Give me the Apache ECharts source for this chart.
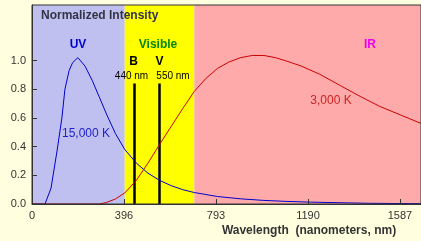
<!DOCTYPE html>
<html><head><meta charset="utf-8">
<script src="https://cdn.jsdelivr.net/npm/echarts@6/dist/echarts.min.js"></script>
<style>html,body{margin:0;padding:0;background:#FFFFE0}#c{width:421px;height:241px}</style>
</head><body><div id="c"></div>
<script>
// ---- data ----
const xTickValues = [0, 396.75, 793.5, 1190.25, 1587];
const yTickValues = [0, 0.2, 0.4, 0.6, 0.8, 1.0];
const bandNames = ['UV', 'Visible', 'IR'];
const bandFrom = [0, 400, 700];
const bandTo = [400, 700, 1678];
const wl15000 = [0, 56, 82, 108, 129, 142, 160, 175, 198, 229, 260, 289, 323, 360, 400, 450, 500, 550, 600, 650, 700, 800, 900, 1000, 1100, 1200, 1450, 1680];
const int15000 = [0, 0, 0.11, 0.37, 0.6, 0.8, 0.93, 0.985, 1.02, 0.96, 0.86, 0.75, 0.62, 0.49, 0.38, 0.285, 0.215, 0.165, 0.128, 0.1, 0.08, 0.052, 0.036, 0.025, 0.018, 0.013, 0.005, 0.002];
const wl3000 = [0, 290, 320, 360, 400, 450, 500, 550, 600, 650, 700, 750, 800, 850, 900, 950, 1000, 1050, 1100, 1160, 1240, 1330, 1415, 1500, 1590, 1680];
const int3000 = [0, 0, 0.01, 0.035, 0.077, 0.165, 0.285, 0.415, 0.54, 0.665, 0.785, 0.875, 0.945, 0.99, 1.02, 1.035, 1.035, 1.02, 0.995, 0.962, 0.905, 0.825, 0.75, 0.68, 0.62, 0.56];
const filterNames = ['B', 'V'];
const filterNm = [440, 550];
const filterTop = [0.84, 0.84];

const FONT = "'Liberation Sans', Arial, sans-serif";
const bandColors = ['#C0C0F0', '#FFFF00', '#FFAAAA'];

const chart = echarts.init(document.getElementById('c'), null, {renderer: 'canvas'});
const zip = (a, b) => a.map((v, i) => [v, b[i]]);

chart.setOption({
  backgroundColor: '#FFFFE0',
  animation: false,
  grid: {left: 32, top: 5, right: -2, bottom: 37, show: true, borderColor: '#333', borderWidth: 1, backgroundColor: 'transparent', z: 10},
  xAxis: {
    type: 'value', min: 0, max: 1677.6, z: 10,
    axisLine: {lineStyle: {color: '#333', width: 1}},
    axisTick: {inside: true, length: 5, lineStyle: {color: '#333'}, customValues: xTickValues.slice(1)},
    axisLabel: {customValues: xTickValues, formatter: v => String(Math.floor(v)), color: '#333', fontSize: 11, fontFamily: FONT, margin: 6},
    splitLine: {show: false}
  },
  yAxis: {
    type: 'value', min: 0, max: 1.3868, z: 10,
    axisLine: {show: true, lineStyle: {color: '#333', width: 1}},
    axisTick: {show: true, inside: true, length: 5, lineStyle: {color: '#333'}, customValues: yTickValues.slice(1)},
    axisLabel: {customValues: yTickValues, formatter: v => v.toFixed(1), color: '#333', fontSize: 11, fontFamily: FONT, margin: 6},
    splitLine: {show: false}
  },
  series: [
    {
      type: 'line', data: [], z: 1, silent: true,
      markArea: {
        silent: true,
        data: bandNames.map((n, i) => [{xAxis: bandFrom[i], itemStyle: {color: bandColors[i], opacity: 1}}, {xAxis: bandTo[i]}])
      }
    },
    {
      type: 'line', data: zip(wl15000, int15000), showSymbol: false, z: 5,
      lineStyle: {color: '#0000CC', width: 1}
    },
    {
      type: 'line', data: zip(wl3000, int3000), showSymbol: false, z: 5,
      lineStyle: {color: '#CC0000', width: 1}
    },
    {
      type: 'line', data: [], z: 6,
      markLine: {
        silent: true, symbol: 'none', label: {show: false},
        lineStyle: {color: '#000', width: 2.5, type: 'solid'},
        data: filterNm.map((nm, i) => [{coord: [nm, 0]}, {coord: [nm, filterTop[i]]}])
      }
    }
  ],
  graphic: [
    {type: 'text', z: 100, x: 41, y: 16, style: {text: 'Normalized Intensity', font: 'bold 12px ' + FONT, fill: '#333344', align: 'left', verticalAlign: 'middle'}},
    {type: 'text', z: 100, x: 78, y: 45, style: {text: 'UV', font: 'bold 12px ' + FONT, fill: '#0000CC', align: 'center', verticalAlign: 'middle'}},
    {type: 'text', z: 100, x: 158, y: 45, style: {text: 'Visible', font: 'bold 12px ' + FONT, fill: '#008800', align: 'center', verticalAlign: 'middle'}},
    {type: 'text', z: 100, x: 370, y: 45, style: {text: 'IR', font: 'bold 12px ' + FONT, fill: '#EE00EE', align: 'center', verticalAlign: 'middle'}},
    {type: 'text', z: 100, x: 133.5, y: 62, style: {text: 'B', font: 'bold 12px ' + FONT, fill: '#000', align: 'center', verticalAlign: 'middle'}},
    {type: 'text', z: 100, x: 159.5, y: 62, style: {text: 'V', font: 'bold 12px ' + FONT, fill: '#000', align: 'center', verticalAlign: 'middle'}},
    {type: 'text', z: 100, x: 131.5, y: 76, style: {text: '440 nm', font: '10px ' + FONT, fill: '#000', align: 'center', verticalAlign: 'middle'}},
    {type: 'text', z: 100, x: 173, y: 76, style: {text: '550 nm', font: '10px ' + FONT, fill: '#000', align: 'center', verticalAlign: 'middle'}},
    {type: 'text', z: 100, x: 86, y: 134, style: {text: '15,000 K', font: '12px ' + FONT, fill: '#2222CC', align: 'center', verticalAlign: 'middle'}},
    {type: 'text', z: 100, x: 331, y: 101, style: {text: '3,000 K', font: '12px ' + FONT, fill: '#CC2222', align: 'center', verticalAlign: 'middle'}},
    {type: 'text', z: 100, x: 309, y: 231, style: {text: 'Wavelength  (nanometers, nm)', font: 'bold 12px ' + FONT, fill: '#333', align: 'center', verticalAlign: 'middle'}}
  ]
});
</script>
</body></html>
